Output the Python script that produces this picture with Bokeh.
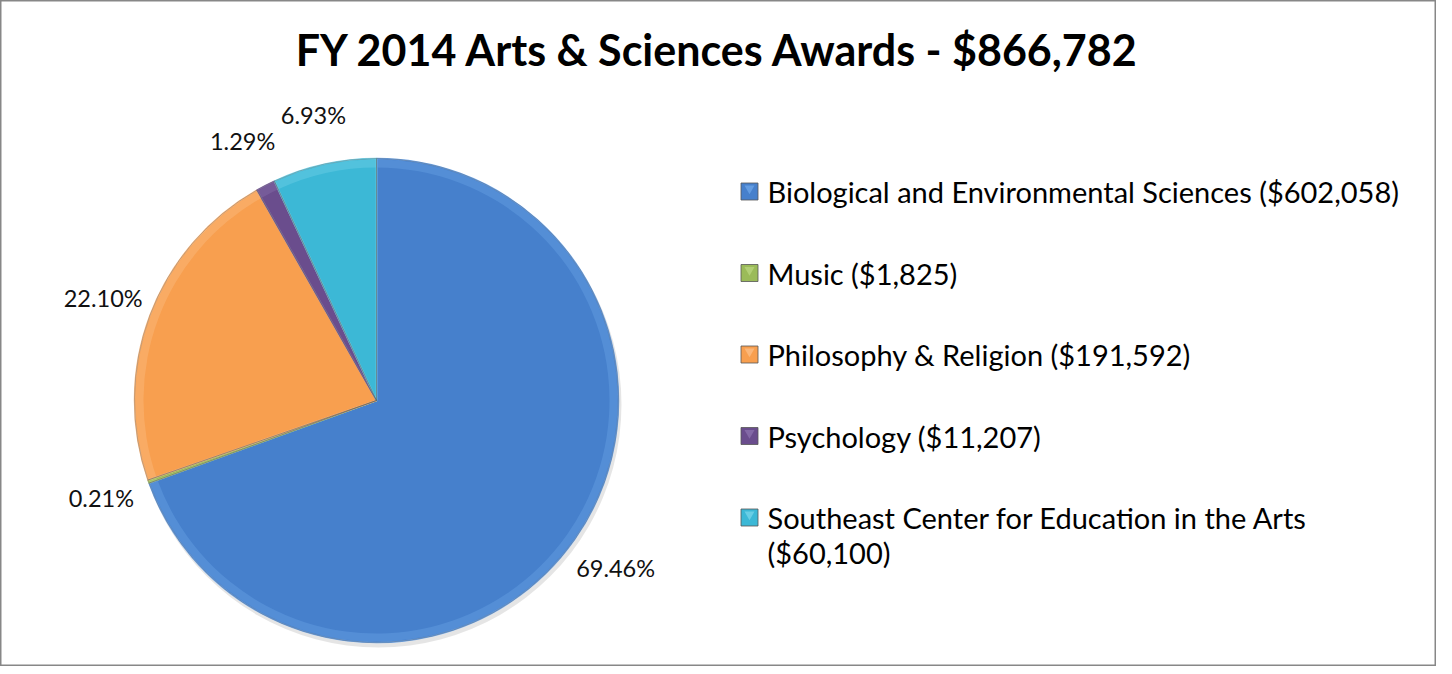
import math
from bokeh.plotting import figure
from bokeh.models import Range1d
from bokeh.embed import file_html
from bokeh.resources import INLINE
from bokeh.core.properties import value

# ---- data ----
title_text = "FY 2014 Arts & Sciences Awards - $866,782"
categories = ["Biological and Environmental Sciences", "Music", "Philosophy & Religion",
              "Psychology", "Southeast Center for Education in the Arts"]
amounts = [602058, 1825, 191592, 11207, 60100]
pct_labels = ["69.46%", "0.21%", "22.10%", "1.29%", "6.93%"]
legend_labels = ["Biological and Environmental Sciences ($602,058)",
                 "Music ($1,825)",
                 "Philosophy & Religion ($191,592)",
                 "Psychology ($11,207)",
                 "Southeast Center for Education in the Arts\n($60,100)"]
colors = ["#4680cc", "#9bbb59", "#f89f4f", "#6a4d8d", "#3cb8d6"]
edge_colors = ["#6aa2e6", "#b8d47c", "#fbbd85", "#8a70ad", "#74d3e9"]

# ---- layout ----
W, H = 1436, 666
FONT = "Lato"

p = figure(width=W, height=H, output_backend="svg", toolbar_location=None,
           x_range=Range1d(0, W), y_range=Range1d(0, H), min_border=0)
p.axis.visible = False
p.xgrid.visible = False
p.ygrid.visible = False
p.outline_line_color = "#878787"
p.outline_line_width = 2
p.background_fill_color = "white"
p.border_fill_color = "white"


def sy(screen_y):
    return H - (screen_y - 8)


def sx(screen_x):
    return screen_x - 8


cx, cy, r = sx(384), sy(408), 242
total = float(sum(amounts))
fracs = [a / total for a in amounts]
starts, ends, mids = [], [], []
cum = 0.0
for f in fracs:
    starts.append(math.pi / 2 - cum * 2 * math.pi)
    ends.append(math.pi / 2 - (cum + f) * 2 * math.pi)
    mids.append(math.pi / 2 - (cum + f / 2) * 2 * math.pi)
    cum += f

# shadow
p.wedge(x=cx + 2, y=cy - 4, radius=r + 1, start_angle=math.pi / 2, end_angle=math.pi / 2 - 2 * math.pi + 1e-6,
        direction="clock", fill_color="#000000", fill_alpha=0.10, line_color=None)

p.wedge(x=[cx] * 5, y=[cy] * 5, radius=r, start_angle=starts, end_angle=ends,
        direction="clock", fill_color=colors, line_color=edge_colors, line_width=1.5)
# bevel rim highlight
p.annular_wedge(x=[cx] * 5, y=[cy] * 5, inner_radius=r - 9, outer_radius=r - 1,
                start_angle=starts, end_angle=ends, direction="clock",
                fill_color=edge_colors, fill_alpha=0.4, line_color=None)
p.wedge(x=[cx] * 5, y=[cy] * 5, radius=r, start_angle=starts, end_angle=ends,
        direction="clock", fill_color=None, line_color="#5a5a5a", line_alpha=0.35, line_width=1)

# percentage labels
R_lab = 292
lx = [cx + R_lab * math.cos(m) for m in mids]
ly = [cy + R_lab * math.sin(m) for m in mids]
p.text(x=lx, y=ly, text=pct_labels, text_align="center", text_baseline="middle",
       text_font=value(FONT), text_font_size=value("23.5px"), text_color="#111111")

# title
p.text(x=[sx(726)], y=[sy(57)], text=[title_text], text_align="center", text_baseline="middle",
       text_font=value(FONT), text_font_size=value("43px"), text_font_style="bold", text_color="#000000")

# legend
row0, step, line_h = 199, 81.5, 35
mk_x, mk_y, tx, ty, tl = [], [], [], [], []
for i, lab in enumerate(legend_labels):
    y0 = row0 + i * step
    mk_x.append(sx(757))
    mk_y.append(sy(y0))
    for j, line in enumerate(lab.split("\n")):
        tx.append(sx(775))
        ty.append(sy(y0 + j * line_h))
        tl.append(line)
p.scatter(x=mk_x, y=mk_y, marker="square", size=17, fill_color=colors, line_color="#555555", line_width=0.8)
p.scatter(x=mk_x, y=[y + 3 for y in mk_y], marker="inverted_triangle", size=10, fill_color=edge_colors,
          line_color=None, fill_alpha=0.8)
p.text(x=tx, y=ty, text=tl, text_align="left", text_baseline="middle",
       text_font=value(FONT), text_font_size=value("29px"), text_color="#000000")

open("out.html", "w").write(file_html(p, INLINE))
